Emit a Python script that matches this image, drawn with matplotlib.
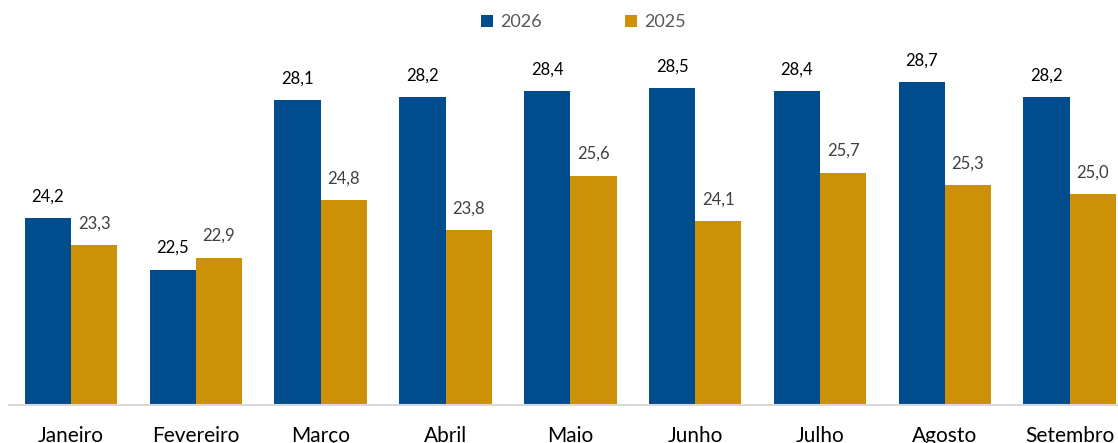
import matplotlib.pyplot as plt
import numpy as np

plt.rcParams['font.family'] = ['Lato', 'DejaVu Sans']

meses = ["Janeiro", "Fevereiro", "Março", "Abril", "Maio", "Junho", "Julho", "Agosto", "Setembro"]
valores_2026 = [24.2, 22.5, 28.1, 28.2, 28.4, 28.5, 28.4, 28.7, 28.2]
valores_2025 = [23.3, 22.9, 24.8, 23.8, 25.6, 24.1, 25.7, 25.3, 25.0]

cor_2026 = "#004C8C"
cor_2025 = "#CC9106"

fig = plt.figure(figsize=(11.18, 4.43), dpi=100)
ax = fig.add_axes([0.0077, 0.0847, 1.0049, 0.818])

x = np.arange(len(meses))
w = 0.37
b1 = ax.bar(x - w / 2, valores_2026, w, color=cor_2026, label="2026")
b2 = ax.bar(x + w / 2, valores_2025, w, color=cor_2025, label="2025")

ax.set_ylim(18, 30)
ax.set_xlim(-0.5, len(meses) - 0.5)

for rect, v in zip(b1, valores_2026):
    ax.annotate(f"{v:.1f}".replace(".", ","), (rect.get_x() + rect.get_width() / 2, v),
                xytext=(0, 10), textcoords="offset points", ha="center", va="bottom",
                fontsize=12, color="#000000")
for rect, v in zip(b2, valores_2025):
    ax.annotate(f"{v:.1f}".replace(".", ","), (rect.get_x() + rect.get_width() / 2, v),
                xytext=(0, 10), textcoords="offset points", ha="center", va="bottom",
                fontsize=12, color="#404040")

ax.set_xticks(x)
ax.set_xticklabels(meses, fontsize=15, color="#000000")
ax.tick_params(axis="x", length=0, pad=15)
ax.set_yticks([])
for s in ["top", "right", "left"]:
    ax.spines[s].set_visible(False)
ax.spines["bottom"].set_color("#D9D9D9")
ax.spines["bottom"].set_linewidth(1.5)

fig.legend(handles=[b1, b2], loc="center", bbox_to_anchor=(0.522, 0.95), ncol=2,
           frameon=False, fontsize=13, labelcolor="#595959", handlelength=0.65,
           handleheight=0.65, columnspacing=4.6, handletextpad=0.4)

fig.savefig("out.png", dpi=100)
